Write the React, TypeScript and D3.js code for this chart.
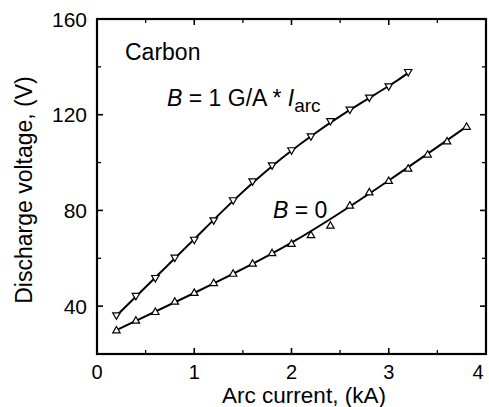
import React from "react";
import * as d3 from "d3";

// Arc current (kA) and discharge voltage (V), B = 1 G/A * I_arc
const currentMagnetized = [0.2, 0.4, 0.6, 0.8, 1.0, 1.2, 1.4, 1.6, 1.8, 2.0, 2.2, 2.4, 2.6, 2.8, 3.0, 3.2];
const voltageMagnetized = [36.3, 44.4, 51.9, 60.4, 67.9, 76.0, 84.4, 92.3, 99.0, 105.3, 111.1, 117.5, 122.3, 127.3, 132.0, 138.0];

// Arc current (kA) and discharge voltage (V), B = 0
const currentZeroField = [0.2, 0.4, 0.6, 0.8, 1.0, 1.2, 1.4, 1.6, 1.8, 2.0, 2.2, 2.4, 2.6, 2.8, 3.0, 3.2, 3.4, 3.6, 3.8];
const voltageZeroField = [29.7, 33.8, 37.4, 41.7, 45.4, 49.5, 53.4, 57.6, 62.0, 65.9, 69.5, 73.5, 81.9, 87.4, 92.2, 97.3, 103.2, 108.7, 114.8];

// Smooth fit curves through the data
const fitCurrentMagnetized = [0.2, 0.6, 1.0, 1.4, 1.8, 2.2, 2.6, 3.0, 3.2];
const fitVoltageMagnetized = [36.0, 52.0, 68.0, 84.0, 98.5, 111.0, 122.0, 132.0, 137.5];
const fitCurrentZeroField = [0.2, 1.0, 2.0, 3.0, 3.8];
const fitVoltageZeroField = [30.0, 45.5, 66.5, 92.5, 115.0];

const xMajorTicks = [0, 1, 2, 3, 4];
const xMinorTicks = [0.5, 1.5, 2.5, 3.5];
const yMajorTicks = [40, 80, 120, 160];
const yMinorTicks = [20, 60, 100, 140];

const W = 489;
const H = 407;
const left = 97;
const right = 486;
const top = 19;
const bottom = 354;

const FONT = "'Liberation Sans', Arial, Helvetica, sans-serif";

export default function App() {
  const x = d3.scaleLinear().domain([0, 4]).range([left, right]);
  const y = d3.scaleLinear().domain([20, 160]).range([bottom, top]);

  const line = d3
    .line<[number, number]>()
    .x((d) => x(d[0]))
    .y((d) => y(d[1]))
    .curve(d3.curveNatural);

  const fitA = fitCurrentMagnetized.map((c, i) => [c, fitVoltageMagnetized[i]] as [number, number]);
  const fitB = fitCurrentZeroField.map((c, i) => [c, fitVoltageZeroField[i]] as [number, number]);

  const tri = d3.symbol().type(d3.symbolTriangle).size(24)();

  const majorLen = 6;
  const minorLen = 4;

  return (
    <svg
      width={W}
      height={H}
      style={{ position: "absolute", left: 0, top: 0, background: "#fff" }}
      fontFamily={FONT}
    >
      <rect width={W} height={H} fill="#fff" />

      {/* fit curves */}
      <path d={line(fitA) ?? ""} fill="none" stroke="#000" strokeWidth={2} />
      <path d={line(fitB) ?? ""} fill="none" stroke="#000" strokeWidth={2} />

      {/* markers */}
      {currentMagnetized.map((c, i) => (
        <path
          key={`m${i}`}
          d={tri ?? ""}
          transform={`translate(${x(c)},${y(voltageMagnetized[i])}) rotate(180)`}
          fill="#fff"
          stroke="#000"
          strokeWidth={1.2}
        />
      ))}
      {currentZeroField.map((c, i) => (
        <path
          key={`z${i}`}
          d={tri ?? ""}
          transform={`translate(${x(c)},${y(voltageZeroField[i])})`}
          fill="#fff"
          stroke="#000"
          strokeWidth={1.2}
        />
      ))}

      {/* frame */}
      <rect x={left} y={top} width={right - left} height={bottom - top} fill="none" stroke="#000" strokeWidth={2.2} />

      {/* x ticks, bottom and top, pointing inward */}
      {xMajorTicks.map((t) => (
        <g key={`xt${t}`}>
          <line x1={x(t)} x2={x(t)} y1={bottom} y2={bottom - majorLen} stroke="#000" strokeWidth={1.6} />
          <line x1={x(t)} x2={x(t)} y1={top} y2={top + majorLen} stroke="#000" strokeWidth={1.6} />
          <text x={Math.min(x(t), 478)} y={379} textAnchor="middle" fontSize={20}>
            {t}
          </text>
        </g>
      ))}
      {xMinorTicks.map((t) => (
        <g key={`xm${t}`}>
          <line x1={x(t)} x2={x(t)} y1={bottom} y2={bottom - minorLen} stroke="#000" strokeWidth={1.3} />
          <line x1={x(t)} x2={x(t)} y1={top} y2={top + minorLen} stroke="#000" strokeWidth={1.3} />
        </g>
      ))}

      {/* y ticks, left and right, pointing inward */}
      {yMajorTicks.map((t) => (
        <g key={`yt${t}`}>
          <line x1={left} x2={left + majorLen} y1={y(t)} y2={y(t)} stroke="#000" strokeWidth={1.6} />
          <line x1={right} x2={right - majorLen} y1={y(t)} y2={y(t)} stroke="#000" strokeWidth={1.6} />
          <text x={87} y={y(t) + 7.5} textAnchor="end" fontSize={21}>
            {t}
          </text>
        </g>
      ))}
      {yMinorTicks.map((t) => (
        <g key={`ym${t}`}>
          <line x1={left} x2={left + minorLen} y1={y(t)} y2={y(t)} stroke="#000" strokeWidth={1.3} />
          <line x1={right} x2={right - minorLen} y1={y(t)} y2={y(t)} stroke="#000" strokeWidth={1.3} />
        </g>
      ))}

      {/* axis titles */}
      <text x={304} y={403} textAnchor="middle" fontSize={22.5}>
        Arc current, (kA)
      </text>
      <text transform="translate(32,190) rotate(-90)" textAnchor="middle" fontSize={23}>
        Discharge voltage, (V)
      </text>

      {/* annotations */}
      <text x={125} y={60} fontSize={23}>
        Carbon
      </text>
      <text x={167} y={106} fontSize={23}>
        <tspan fontStyle="italic">B</tspan>
        <tspan> = 1 G/A * </tspan>
        <tspan fontStyle="italic">I</tspan>
        <tspan fontSize={19} dy={6}>arc</tspan>
      </text>
      <text x={273} y={218} fontSize={23}>
        <tspan fontStyle="italic">B</tspan>
        <tspan> = 0</tspan>
      </text>
    </svg>
  );
}
